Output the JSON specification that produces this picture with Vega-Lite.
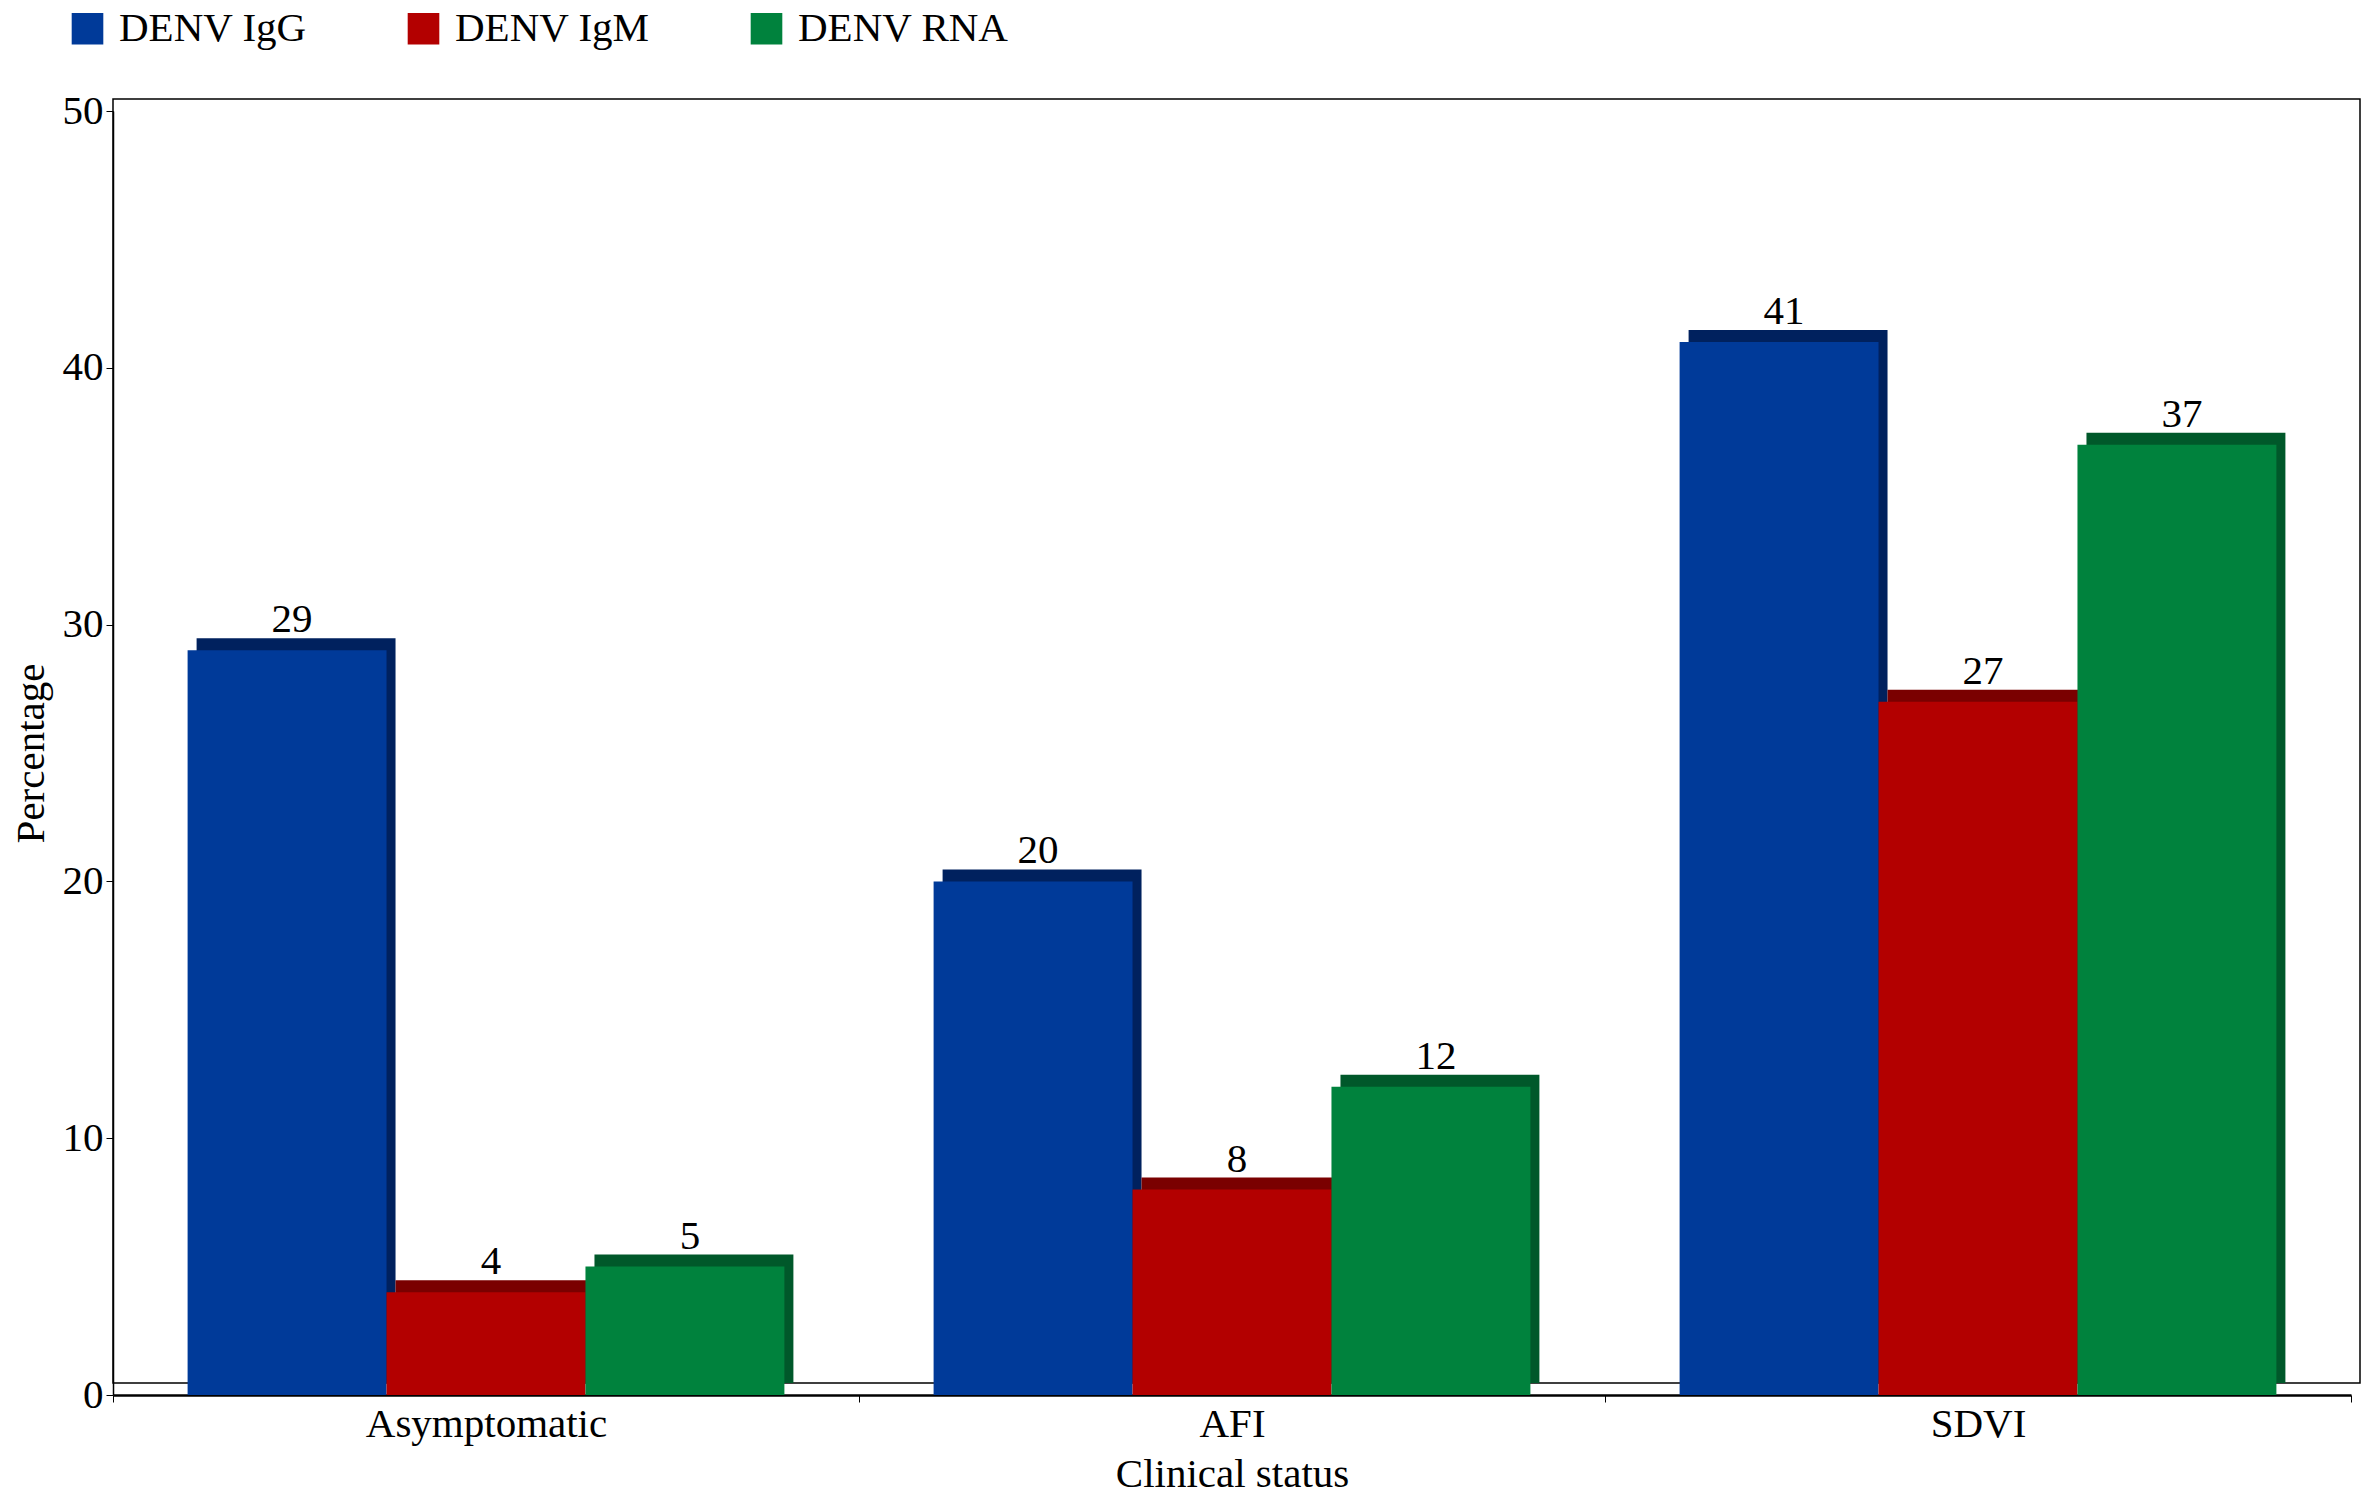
{
  "$schema": "https://vega.github.io/schema/vega-lite/v6.json",
  "width": 2238,
  "height": 1284,
  "autosize": {"type": "none"},
  "padding": {"left": 113, "top": 111, "right": 11, "bottom": 101},
  "background": "white",
  "config": {
    "font": "Liberation Serif",
    "view": {"stroke": null},
    "axis": {
      "labelFont": "Liberation Serif",
      "titleFont": "Liberation Serif",
      "labelFontSize": 41,
      "titleFontSize": 41,
      "titleFontWeight": "normal",
      "labelColor": "#000",
      "titleColor": "#000",
      "domainColor": "#000",
      "tickColor": "#000",
      "labelLimit": 0,
      "grid": false
    }
  },
  "data": {
    "values": [
      {"status": "Asymptomatic", "test": "DENV IgG", "pct": 29},
      {"status": "Asymptomatic", "test": "DENV IgM", "pct": 4},
      {"status": "Asymptomatic", "test": "DENV RNA", "pct": 5},
      {"status": "AFI", "test": "DENV IgG", "pct": 20},
      {"status": "AFI", "test": "DENV IgM", "pct": 8},
      {"status": "AFI", "test": "DENV RNA", "pct": 12},
      {"status": "SDVI", "test": "DENV IgG", "pct": 41},
      {"status": "SDVI", "test": "DENV IgM", "pct": 27},
      {"status": "SDVI", "test": "DENV RNA", "pct": 37}
    ]
  },
  "layer": [
    {
      "data": {"values": [{}]},
      "mark": {
        "type": "rect",
        "fill": null,
        "stroke": "#000",
        "strokeWidth": 1.5,
        "xOffset": 9,
        "x2Offset": 9,
        "yOffset": -12,
        "y2Offset": -12
      },
      "encoding": {
        "y": {"datum": 0, "type": "quantitative", "scale": {"domain": [0, 50]}},
        "y2": {"datum": 50}
      }
    },
    {
      "mark": {"type": "bar", "yOffset": -12, "y2Offset": -12},
      "encoding": {
        "x": {"field": "status", "type": "nominal", "sort": ["Asymptomatic", "AFI", "SDVI"], "scale": {"type": "band", "paddingInner": 0, "paddingOuter": 0}},
        "xOffset": {"field": "test", "type": "nominal", "scale": {"type": "band", "paddingInner": 0, "paddingOuter": 0.375, "range": [9, 755]}},
        "y": {"field": "pct", "type": "quantitative"},
        "color": {
          "field": "test",
          "type": "nominal",
          "legend": null,
          "scale": {"domain": ["DENV IgG", "DENV IgM", "DENV RNA"], "range": ["#00215E", "#7A0000", "#00582A"]}
        }
      }
    },
    {
      "mark": {"type": "bar"},
      "encoding": {
        "x": {
          "field": "status",
          "type": "nominal",
          "sort": ["Asymptomatic", "AFI", "SDVI"],
          "scale": {"type": "band", "paddingInner": 0, "paddingOuter": 0},
          "axis": {"title": "Clinical status", "labelAngle": 0, "labelAlign": "center", "tickBand": "extent", "tickSize": 7, "domainWidth": 2.5, "labelPadding": 22, "titlePadding": 10}
        },
        "xOffset": {"field": "test", "type": "nominal", "scale": {"type": "band", "paddingInner": 0, "paddingOuter": 0.375, "range": [0, 746]}},
        "y": {
          "field": "pct",
          "type": "quantitative",
          "scale": {"domain": [0, 50]},
          "axis": {"title": "Percentage", "values": [0, 10, 20, 30, 40, 50], "tickSize": 7, "labelPadding": 3, "domainWidth": 1.5, "titlePadding": 10}
        },
        "color": {
          "field": "test",
          "type": "nominal",
          "scale": {"domain": ["DENV IgG", "DENV IgM", "DENV RNA"], "range": ["#003A99", "#B30000", "#00823D"]},
          "legend": {
            "orient": "none",
            "legendX": -46,
            "legendY": -103,
            "direction": "horizontal",
            "title": null,
            "symbolType": "square",
            "symbolSize": 1000,
            "symbolStrokeWidth": 0,
            "labelFont": "Liberation Serif",
            "labelFontSize": 41,
            "labelLimit": 0,
            "labelColor": "#000",
            "labelOffset": 11,
            "columnPadding": 96
          }
        }
      }
    },
    {
      "mark": {"type": "text", "dx": 5, "dy": -18, "baseline": "alphabetic", "fontSize": 41, "font": "Liberation Serif", "color": "#000"},
      "encoding": {
        "x": {"field": "status", "type": "nominal", "sort": ["Asymptomatic", "AFI", "SDVI"], "scale": {"type": "band", "paddingInner": 0, "paddingOuter": 0}},
        "xOffset": {"field": "test", "type": "nominal", "scale": {"type": "band", "paddingInner": 0, "paddingOuter": 0.375, "range": [0, 746]}},
        "y": {"field": "pct", "type": "quantitative"},
        "text": {"field": "pct", "type": "quantitative"}
      }
    }
  ],
  "resolve": {"scale": {"color": "independent", "xOffset": "independent"}}
}
